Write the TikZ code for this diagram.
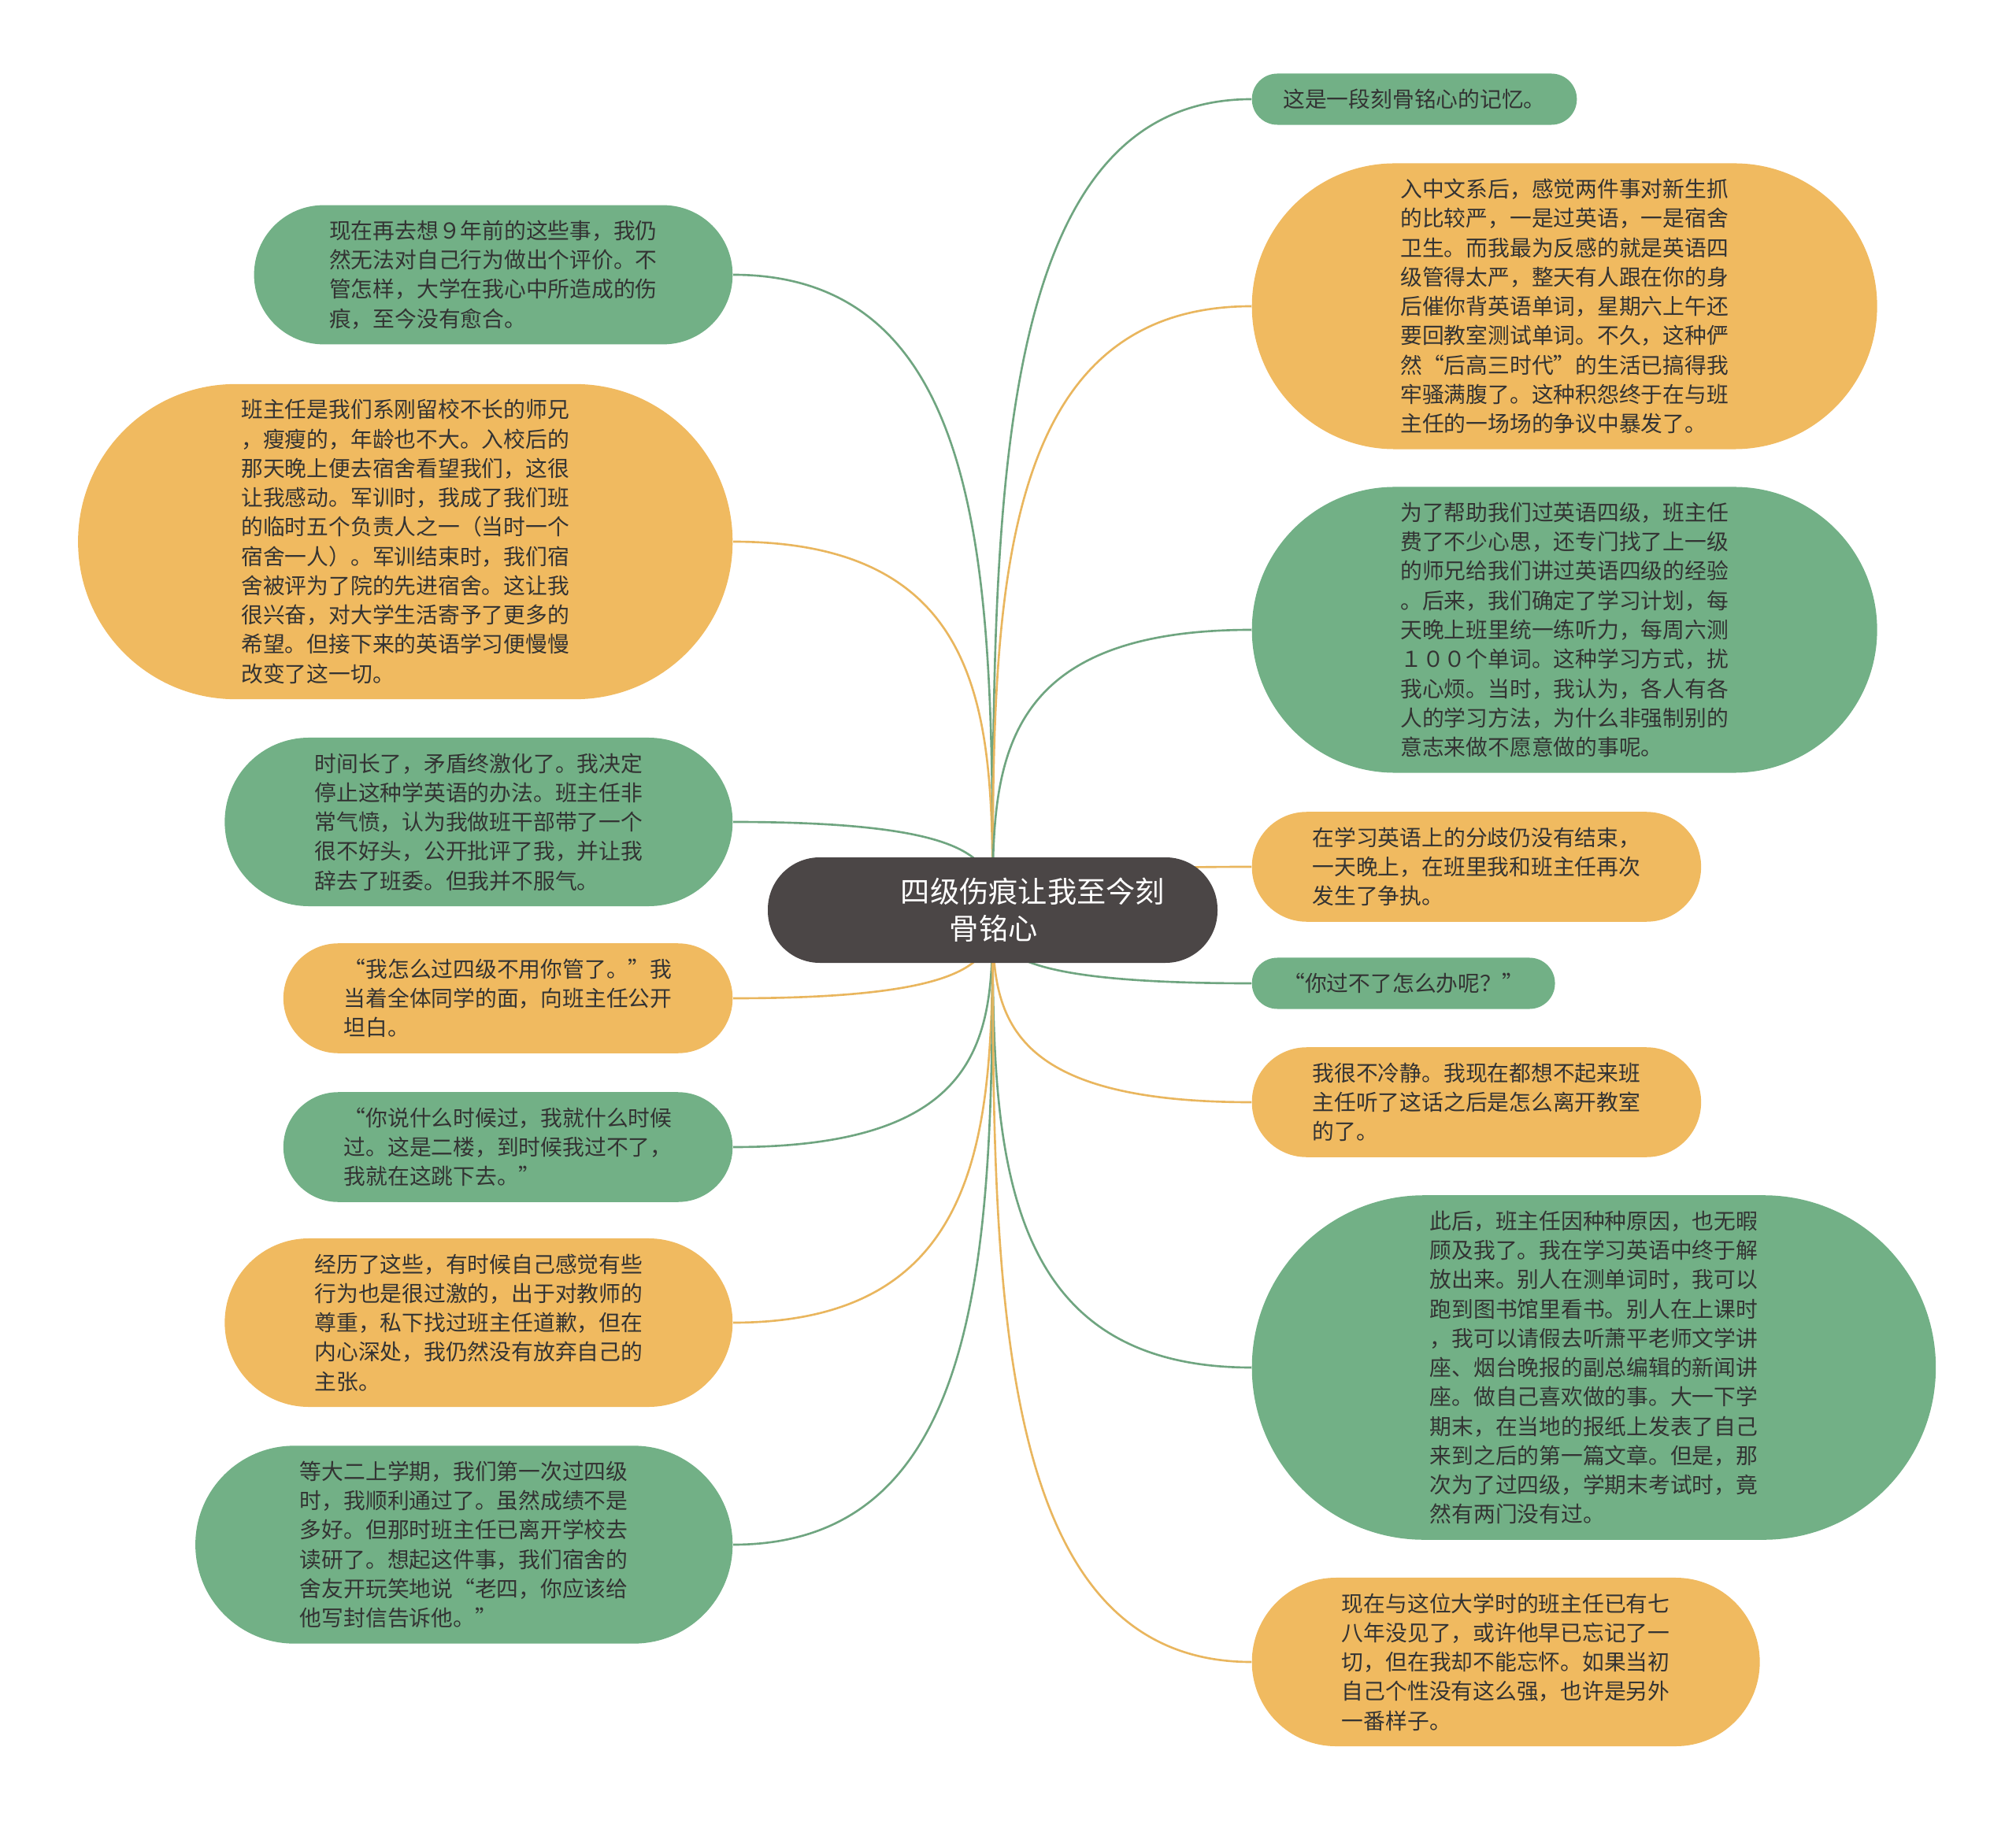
\documentclass[tikz,border=0pt]{standalone}
\usepackage{fontspec}
\setmainfont{Noto Sans CJK SC}
\usetikzlibrary{calc,backgrounds}
\definecolor{leafgreen}{HTML}{72B086}
\definecolor{leaforange}{HTML}{F0BA60}
\definecolor{linegreen}{HTML}{6FA580}
\definecolor{lineorange}{HTML}{E9B65E}
\definecolor{hubgrey}{HTML}{4B4646}
\definecolor{inkdark}{HTML}{333333}

% #1 = number of text lines, the ends are half circles
\tikzset{
  leaf/.style={rectangle,minimum height=7.9pt+10.6pt*#1,rounded corners=3.9pt+5.3pt*#1,
    inner xsep=6pt+5.3pt*#1,inner ysep=1pt,align=left,
    text=inkdark,font=\fontsize{7.9pt}{10.6pt}\selectfont},
  greenleaf/.style={leaf=#1,fill=leafgreen},
  orangeleaf/.style={leaf=#1,fill=leaforange},
  hubnode/.style={rectangle,rounded corners=0.66cm,fill=hubgrey,text=white,align=left,
    minimum width=5.71cm,minimum height=1.34cm,font=\fontsize{10.6pt}{13.4pt}\selectfont},
  branch/.style={line width=0.75pt}
}

\begin{document}
\begin{tikzpicture}
  \useasboundingbox (0,0) rectangle (25.6,-23.13);

  \node[hubnode] (hub) at (12.605,-11.56)
    {\hspace*{1.02cm}四级伤痕让我至今刻\\\hspace*{1.64cm}骨铭心};

  % left side
  \node[greenleaf=4,anchor=east] (l1) at (9.31,-3.49)
    {现在再去想９年前的这些事，我仍\\然无法对自己行为做出个评价。不\\管怎样，大学在我心中所造成的伤\\痕，至今没有愈合。};
  \node[orangeleaf=10,anchor=east] (l2) at (9.31,-6.88)
    {班主任是我们系刚留校不长的师兄\\，瘦瘦的，年龄也不大。入校后的\\那天晚上便去宿舍看望我们，这很\\让我感动。军训时，我成了我们班\\的临时五个负责人之一（当时一个\\宿舍一人）。军训结束时，我们宿\\舍被评为了院的先进宿舍。这让我\\很兴奋，对大学生活寄予了更多的\\希望。但接下来的英语学习便慢慢\\改变了这一切。};
  \node[greenleaf=5,anchor=east] (l3) at (9.31,-10.44)
    {时间长了，矛盾终激化了。我决定\\停止这种学英语的办法。班主任非\\常气愤，认为我做班干部带了一个\\很不好头，公开批评了我，并让我\\辞去了班委。但我并不服气。};
  \node[orangeleaf=3,anchor=east] (l4) at (9.31,-12.68)
    {“我怎么过四级不用你管了。”我\\当着全体同学的面，向班主任公开\\坦白。};
  \node[greenleaf=3,anchor=east] (l5) at (9.31,-14.57)
    {“你说什么时候过，我就什么时候\\过。这是二楼，到时候我过不了，\\我就在这跳下去。”};
  \node[orangeleaf=5,anchor=east] (l6) at (9.31,-16.80)
    {经历了这些，有时候自己感觉有些\\行为也是很过激的，出于对教师的\\尊重，私下找过班主任道歉，但在\\内心深处，我仍然没有放弃自己的\\主张。};
  \node[greenleaf=6,anchor=east] (l7) at (9.31,-19.62)
    {等大二上学期，我们第一次过四级\\时，我顺利通过了。虽然成绩不是\\多好。但那时班主任已离开学校去\\读研了。想起这件事，我们宿舍的\\舍友开玩笑地说“老四，你应该给\\他写封信告诉他。”};

  % right side
  \node[greenleaf=1,anchor=west] (r1) at (15.89,-1.26)
    {这是一段刻骨铭心的记忆。};
  \node[orangeleaf=9,anchor=west] (r2) at (15.89,-3.89)
    {入中文系后，感觉两件事对新生抓\\的比较严，一是过英语，一是宿舍\\卫生。而我最为反感的就是英语四\\级管得太严，整天有人跟在你的身\\后催你背英语单词，星期六上午还\\要回教室测试单词。不久，这种俨\\然“后高三时代”的生活已搞得我\\牢骚满腹了。这种积怨终于在与班\\主任的一场场的争议中暴发了。};
  \node[greenleaf=9,anchor=west] (r3) at (15.89,-8.00)
    {为了帮助我们过英语四级，班主任\\费了不少心思，还专门找了上一级\\的师兄给我们讲过英语四级的经验\\。后来，我们确定了学习计划，每\\天晚上班里统一练听力，每周六测\\１００个单词。这种学习方式，扰\\我心烦。当时，我认为，各人有各\\人的学习方法，为什么非强制别的\\意志来做不愿意做的事呢。};
  \node[orangeleaf=3,anchor=west] (r4) at (15.89,-11.01)
    {在学习英语上的分歧仍没有结束，\\一天晚上，在班里我和班主任再次\\发生了争执。};
  \node[greenleaf=1,anchor=west] (r5) at (15.89,-12.49)
    {“你过不了怎么办呢？”};
  \node[orangeleaf=3,anchor=west] (r6) at (15.89,-14.00)
    {我很不冷静。我现在都想不起来班\\主任听了这话之后是怎么离开教室\\的了。};
  \node[greenleaf=11,anchor=west] (r7) at (15.89,-17.37)
    {此后，班主任因种种原因，也无暇\\顾及我了。我在学习英语中终于解\\放出来。别人在测单词时，我可以\\跑到图书馆里看书。别人在上课时\\，我可以请假去听萧平老师文学讲\\座、烟台晚报的副总编辑的新闻讲\\座。做自己喜欢做的事。大一下学\\期末，在当地的报纸上发表了自己\\来到之后的第一篇文章。但是，那\\次为了过四级，学期末考试时，竟\\然有两门没有过。};
  \node[orangeleaf=5,anchor=west] (r8) at (15.89,-21.11)
    {现在与这位大学时的班主任已有七\\八年没见了，或许他早已忘记了一\\切，但在我却不能忘怀。如果当初\\自己个性没有这么强，也许是另外\\一番样子。};

  \begin{scope}[on background layer]
    \foreach \n/\a/\c in {l1/east/linegreen,l2/east/lineorange,l3/east/linegreen,
        l4/east/lineorange,l5/east/linegreen,l6/east/lineorange,l7/east/linegreen,
        r1/west/linegreen,r2/west/lineorange,r3/west/linegreen,r4/west/lineorange,
        r5/west/linegreen,r6/west/lineorange,r7/west/linegreen,r8/west/lineorange}
      \draw[branch,\c] (hub.center)
        .. controls ($(hub.center)!0.5!(hub.center |- \n.\a)$) and (hub.center |- \n.\a)
        .. (\n.\a);
  \end{scope}
\end{tikzpicture}
\end{document}
